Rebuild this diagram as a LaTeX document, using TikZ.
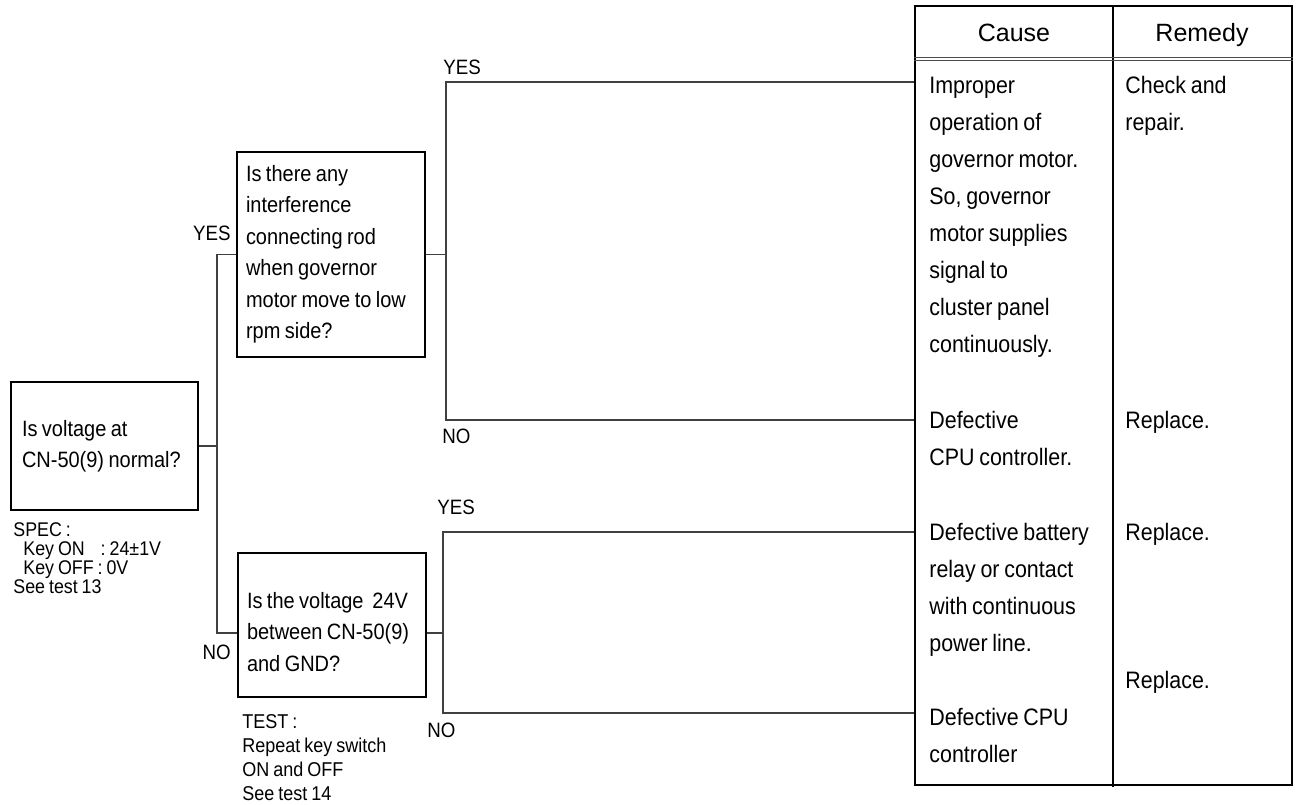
\documentclass[tikz,border=0pt]{standalone}
\usepackage{fontspec}
\setmainfont{Liberation Sans}[FakeStretch=0.9, WordSpace=0.8]
\newfontfamily\hdrfont{Liberation Sans}
\begin{document}
\begin{tikzpicture}[x=0.5pt,y=-0.5pt,
  qbox/.style={draw, line width=0.9pt, align=flush left, font=\fontsize{11.1pt}{15.75pt}\selectfont},
  conn/.style={line width=0.6pt, draw=black!75},
  lbl/.style={inner sep=0, font=\fontsize{10.4pt}{12pt}\selectfont},
  cell/.style={inner sep=0, anchor=base west, font=\fontsize{11.9pt}{18.5pt}\selectfont},
  hdr/.style={inner sep=0, anchor=base, font=\hdrfont\fontsize{12.5pt}{14pt}\selectfont},
  note/.style={inner sep=0, anchor=base west}
]
\useasboundingbox (0,0) rectangle (1297,804);

% question boxes
\node[qbox, inner xsep=5.5pt, text width=82.5pt, minimum height=64pt] (q1) at (104.5,446)
  {Is voltage at\\CN-50(9) normal?};
\node[qbox, inner xsep=4.5pt, text width=85pt, minimum height=102.5pt] (q2) at (331,254.5)
  {Is there any\\interference\\connecting rod\\when governor\\motor move to low\\rpm side?};
\node[qbox, inner xsep=4.5pt, text width=85pt, minimum height=72pt] (q3) at (332,625)
  {\rule{0pt}{15pt}Is the voltage\ \ 24V\\between CN-50(9)\\and GND?};

% notes
\node[note, font=\fontsize{9.9pt}{9.5pt}\selectfont] (spec) at (13,536)
  {\parbox[t]{100pt}{SPEC :\\\hspace*{5pt}Key ON\hspace{6pt} : 24±1V\\\hspace*{5pt}Key OFF : 0V\\See test 13}};
\node[note, font=\fontsize{10pt}{12pt}\selectfont] (test) at (242,728)
  {\parbox[t]{100pt}{TEST :\\Repeat key switch\\ON and OFF\\See test 14}};

% table
\node[draw, line width=1pt, minimum width=188.5pt, minimum height=389.5pt, inner sep=0] (tab) at (1103.5,395.5) {};
\draw[line width=0.6pt] (1113,6) -- (1113,787);
\draw[line width=0.5pt, draw=black!70] (tab.west |- 0,57) -- (tab.east |- 0,57);
\draw[line width=0.5pt, draw=black!70] (tab.west |- 0,60) -- (tab.east |- 0,60);
\node[hdr] (hc) at (1014,41) {Cause};
\node[hdr] (hr) at (1202,41) {Remedy};

\node[cell] (c1) at (929,93.5) {\parbox[t]{95pt}{Improper\\operation of\\governor motor.\\So, governor\\motor supplies\\signal to\\cluster panel\\continuously.}};
\node[cell] (c2) at (929,428.5) {\parbox[t]{95pt}{Defective\\CPU controller.}};
\node[cell] (c3) at (929,540.5) {\parbox[t]{95pt}{Defective battery\\relay or contact\\with continuous\\power line.}};
\node[cell] (c4) at (929,725.5) {\parbox[t]{95pt}{Defective CPU\\controller}};

\node[cell] (r1) at (1125,93.5) {\parbox[t]{80pt}{Check and\\repair.}};
\node[cell] (r2) at (1125,428.5) {Replace.};
\node[cell] (r3) at (1125,540.5) {Replace.};
\node[cell] (r4) at (1125,688.5) {Replace.};

% junctions
\coordinate (j0b) at (217,633);
\coordinate (j1) at (446,82);
\coordinate (j1b) at (446,420);
\coordinate (j2) at (443,532);
\coordinate (j2b) at (443,713);
\coordinate (q3l) at ([yshift=-4pt]q3.west);
\coordinate (q3r) at ([yshift=-4pt]q3.east);

% connectors
\draw[conn] (q1.east) -- (q1.east -| j0b);
\draw[conn] (q2.west) -| (j0b) -- (q3l);
\draw[conn] (q2.east) -- (q2.east -| j1);
\draw[conn] (tab.west |- j1) -- (j1) -- (j1b) -- (tab.west |- j1b);
\draw[conn] (q3r) -- (q3r -| j2);
\draw[conn] (tab.west |- j2) -- (j2) -- (j2b) -- (tab.west |- j2b);

% branch labels
\node[lbl, anchor=east] (y0) at (231,233) {YES};
\node[lbl, anchor=east] (n0) at (231,652) {NO};
\node[lbl, anchor=west] (y1) at (443,67) {YES};
\node[lbl, anchor=west] (n1) at (442,436) {NO};
\node[lbl, anchor=west] (y2) at (437,507) {YES};
\node[lbl, anchor=west] (n2) at (427,730) {NO};
\end{tikzpicture}
\end{document}
